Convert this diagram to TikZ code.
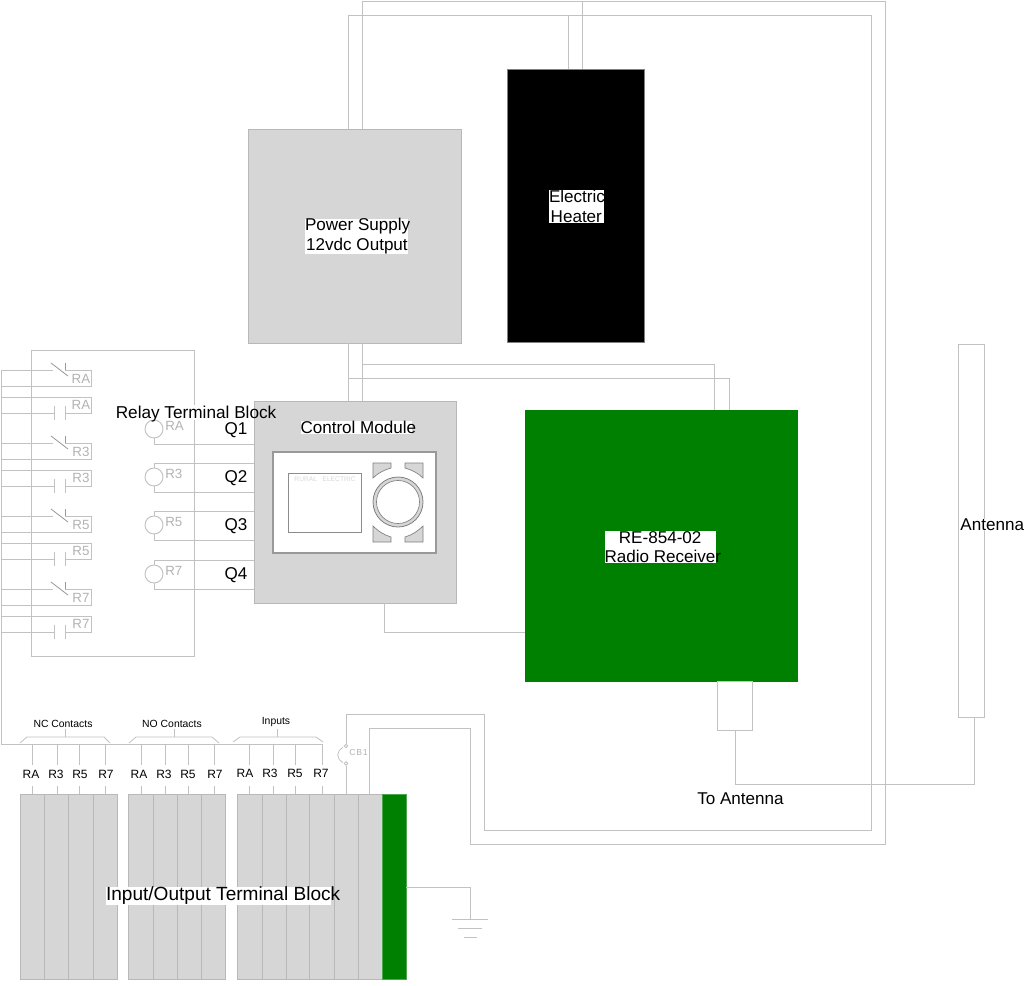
\documentclass[tikz,border=0pt]{standalone}
\usepackage{fontspec}
\setmainfont{Liberation Sans}
\definecolor{wirec}{HTML}{C2C2C2}
\definecolor{panel}{HTML}{D6D6D6}
\definecolor{edgec}{HTML}{B8B8B8}
\definecolor{rad}{HTML}{008000}
\definecolor{cadtxt}{HTML}{B2B2B2}
\tikzset{
  wire/.style={draw=wirec,line width=0.62pt},
  boxbase/.style={rectangle,inner sep=0pt,outer sep=0pt,line width=0.6pt},
  cell/.style={boxbase,fill=panel,draw=edgec},
  cadtext/.style={text=cadtxt,font=\fontsize{10}{10}\selectfont,inner sep=0pt},
  bigtext/.style={font=\fontsize{12.8}{14.8}\selectfont,align=center,inner sep=0pt},
  termtext/.style={font=\fontsize{9}{9}\selectfont,inner sep=0pt},
  smalltext/.style={font=\fontsize{7.8}{8}\selectfont,inner sep=0pt},
  blank/.style={rectangle,fill=white,inner sep=0pt,outer sep=0pt},
  keypad/.style={fill=panel,draw=gray,line width=0.5pt},
}
\newcommand{\pxbox}[6]{% style, name, x0, y0, x1, y1
  \node[#1,minimum width={(#5-#3)*0.75pt},minimum height={(#6-#4)*0.75pt},anchor=north west] (#2) at (#3,#4) {};}
\begin{document}
\begin{tikzpicture}[x=0.75pt,y=-0.75pt]
\useasboundingbox (0,0) rectangle (1024,985);

% main boxes
\pxbox{cell}{ps}{248}{129}{461.5}{343}
\pxbox{boxbase,fill=black,draw=gray}{heater}{507.5}{69}{644}{342}
\pxbox{boxbase,fill=rad,draw=rad}{radio}{525}{410}{797}{681}
\pxbox{boxbase,draw=wirec,fill=white}{ant}{958}{344}{984}{717}
\pxbox{boxbase,draw=wirec,fill=white}{coax}{717}{681}{752}{730}
\pxbox{boxbase,draw=wirec,fill=none}{relay}{31}{350}{194}{656}

% wires at top
\coordinate (xa) at (348,15);
\coordinate (xb) at (362,1);
\coordinate (xc) at (568,15);
\coordinate (xd) at (582,1);
\coordinate (ra) at (871,15);
\coordinate (rb) at (885,1);
\coordinate (la) at (484,830);
\coordinate (lb) at (470,844);
\coordinate (cba) at (346,714);
\coordinate (cbb) at (369,728);
\draw[wire] (xa |- ps.north) -- (xa) -- (ra) -- (ra |- la) -- (la) -- (la |- cba) -- (cba);
\draw[wire] (xb |- ps.north) -- (xb) -- (rb) -- (rb |- lb) -- (lb) -- (lb |- cbb) -- (cbb);
\draw[wire] (xc |- heater.north) -- (xc);
\draw[wire] (xd |- heater.north) -- (xd);

% control module
\pxbox{cell}{ctrl}{254}{401}{456}{603}
\coordinate (ya) at (714,364);
\coordinate (yb) at (729,378);
\draw[wire] (xa |- ps.south) -- (xa |- ctrl.north);
\draw[wire] (xb |- ps.south) -- (xb |- ctrl.north);
\draw[wire] (xb |- ya) -- (ya) -- (ya |- radio.north);
\draw[wire] (xa |- yb) -- (yb) -- (yb |- radio.north);
\coordinate (yc) at (384,632);
\draw[wire] (yc |- ctrl.south) -- (yc) -- (yc -| radio.west);

% screen of the control module
\pxbox{boxbase,fill=white,draw=gray!80,line width=0.9pt}{face}{273}{452}{436}{553}
\pxbox{boxbase,fill=white,draw=gray!90,line width=0.5pt}{lcd}{288}{473}{361}{532}
\node[text=panel,font=\fontsize{5}{5}\selectfont,inner sep=0pt] (brand) at (325,479.5) {RURAL\ \ \ ELECTRIC};
\node[circle,draw=gray,fill=panel,minimum size={50*0.75pt},inner sep=0pt,line width=0.6pt] (dialo) at (398,502) {};
\node[circle,draw=gray,fill=white,minimum size={43*0.75pt},inner sep=0pt,line width=0.5pt] (diali) at (398,502) {};
\draw[keypad] (373,463) -- (391,463) -- (391,468) .. controls (384,470) and (378,473) .. (373,478) -- cycle;
\draw[keypad] (423,463) -- (405,463) -- (405,468) .. controls (412,470) and (418,473) .. (423,478) -- cycle;
\draw[keypad] (373,526) -- (373,542) -- (391,542) -- (391,537) .. controls (384,535) and (378,531) .. (373,526) -- cycle;
\draw[keypad] (423,526) -- (423,542) -- (405,542) -- (405,537) .. controls (412,535) and (418,531) .. (423,526) -- cycle;

% relay contacts
\coordinate (busx) at (1,370);
\coordinate (busy) at (1,744);
\draw[wire] (busx) -- (busy);
\foreach \lab/\yy in {RA/370,R3/443,R5/516,R7/589}{
  % normally closed
  \coordinate (ncr\lab) at (91,\yy);
  \draw[wire] (busx |- ncr\lab) -- (53,\yy);
  \draw[wire,draw=gray!80] (51,\yy-7) -- (68,\yy+6);
  \draw[wire,draw=gray!80] (65,\yy-7) -- (65,\yy);
  \draw[wire] (65,\yy) -- (ncr\lab) -- (91,\yy+16) -- (1,\yy+16);
  \node[cadtext] (nct\lab) at (81,\yy+8.5) {\lab};
  % normally open
  \draw[wire] (1,\yy+27) -- (91,\yy+27) -- (91,\yy+43) -- (65,\yy+43);
  \draw[wire] (1,\yy+43) -- (54,\yy+43);
  \draw[wire] (54,\yy+36) -- (54,\yy+50);
  \draw[wire] (65,\yy+36) -- (65,\yy+50);
  \node[cadtext] (not\lab) at (81,\yy+35) {\lab};
}

% relay coils
\foreach \lab/\cy/\ql in {RA/429/Q1,R3/477/Q2,R5/525/Q3,R7/574/Q4}{
  \node[circle,draw=wirec,line width=0.7pt,minimum size={18*0.75pt},inner sep=0pt] (coil\lab) at (154,\cy) {};
  \coordinate (top\lab) at (154,\cy-14);
  \coordinate (bot\lab) at (154,\cy+15);
  \draw[wire] (coil\lab.north) -- (top\lab) -- (top\lab -| ctrl.west);
  \draw[wire] (coil\lab.south) -- (bot\lab) -- (bot\lab -| ctrl.west);
  \node[cadtext,anchor=west] (cl\lab) at (165,\cy-3) {\lab};
  \node[bigtext] (\ql) at (236,\cy+1) {\ql};
}

% label over relay block
\pxbox{blank}{rtbg}{116}{405}{253.5}{420}
\node[bigtext,font=\fontsize{12.9}{15}\selectfont,anchor=west] (rtb) at (115.5,414.5) {Relay Terminal Block};

% terminal block
\foreach \n/\a/\b in {a/20/44,b/44/68,c/68/93,d/93/117,e/128/153,f/153/177,g/177/201,h/201/225,i/237/262,j/262/286,k/286/309,l/309/334,m/334/358,n/358/382}{
  \pxbox{cell}{t\n}{\a}{794}{\b}{979}
}
\pxbox{boxbase,fill=rad,draw=rad!70!white}{tgreen}{382}{794}{406}{979}

% bus and terminal leads
\coordinate (busend) at (322,744);
\draw[wire] (busy) -- (busend);
\foreach \n/\xx in {a/32,b/57,c/79,d/105,e/141,f/165,g/188,h/214,i/249,j/273,k/295,l/322}{
  \coordinate (up\n) at (\xx,744);
  \coordinate (mid\n) at (\xx,786);
  \draw[wire] (up\n) -- (\xx,765);
  \draw[wire] (mid\n) -- (mid\n |- ta.north);
}
\foreach \xx/\lab in {31/RA,56/R3,80/R5,106/R7,139/RA,164/R3,188/R5,215/R7}{
  \node[termtext] (lbl\xx) at (\xx,774.5) {\lab};
}
\foreach \xx/\lab in {245/RA,270/R3,295/R5,321/R7}{
  \node[termtext] (lbl\xx) at (\xx,773.5) {\lab};
}

% brackets
\draw[wire] (20,743) -- (27,737) -- (104,737) -- (110,743);
\draw[wire] (65,737) -- (65,729);
\draw[wire] (129,743) -- (136,737) -- (212,737) -- (219,743);
\draw[wire] (174,737) -- (174,729);
\draw[wire] (233,742) -- (240,737) -- (316,737) -- (323,742);
\draw[wire] (277,737) -- (277,729);
\node[smalltext] (nclab) at (63,724) {NC Contacts};
\node[smalltext] (nolab) at (172,724) {NO Contacts};
\node[smalltext] (inlab) at (276,722) {Inputs};

% breaker
\node[circle,draw=wirec,line width=0.6pt,minimum size={3.5*0.75pt},inner sep=0pt] (cbt) at (346,746) {};
\node[circle,draw=wirec,line width=0.6pt,minimum size={3.5*0.75pt},inner sep=0pt] (cbl) at (346,763.5) {};
\draw[wire] (cba) -- (cbt);
\draw[wire] (cbl) -- (cbl |- tm.north);
\draw[wire] (cbb) -- (cbb |- tn.north);
\draw[wire,line width=0.6pt] (343,747.5) .. controls (336,751) and (336,759) .. (343,762.5);
\node[cadtext,font=\fontsize{6.5}{7}\selectfont,anchor=west] (cbtext) at (349,752.5) {C\kern0.6pt B\kern0.6pt 1};

% antenna feed
\coordinate (fa) at (735,784);
\coordinate (fb) at (974,784);
\draw[wire] (fa |- coax.south) -- (fa) -- (fb) -- (fb |- ant.south);
\node[bigtext] (toant) at (740.5,798.5) {To Antenna};

% ground
\coordinate (ga) at (470,887);
\coordinate (gb) at (470,919);
\draw[wire] (ga -| tgreen.east) -- (ga) -- (gb);
\draw[wire] (452,919) -- (488,919);
\draw[wire] (458,928) -- (482,928);
\draw[wire] (464,937) -- (477,937);

% labelled boxes
\node[blank,bigtext,font=\fontsize{12.8}{15}\selectfont,anchor=west] (pstext) at (305,236.5) {Power Supply\kern-2pt\\12vdc Output\kern-1pt};
\node[blank,bigtext,anchor=west] (heattext) at (549,206.5) {Electric\kern-1pt\\Heater};
\node[blank,bigtext,anchor=west] (radtext) at (604.5,547) {RE-854-02\\Radio Receiver\kern-4pt};
\node[blank,bigtext,anchor=east] (anttext) at (1024,525) {Antenna};
\node[blank,bigtext,anchor=west] (cmtext) at (300.5,427.5) {Control Module\kern-3pt};
\node[blank,bigtext,font=\fontsize{14.3}{16}\selectfont,anchor=west] (iotext) at (106,896) {Input/Output Terminal Block\kern-7pt};
\end{tikzpicture}
\end{document}
